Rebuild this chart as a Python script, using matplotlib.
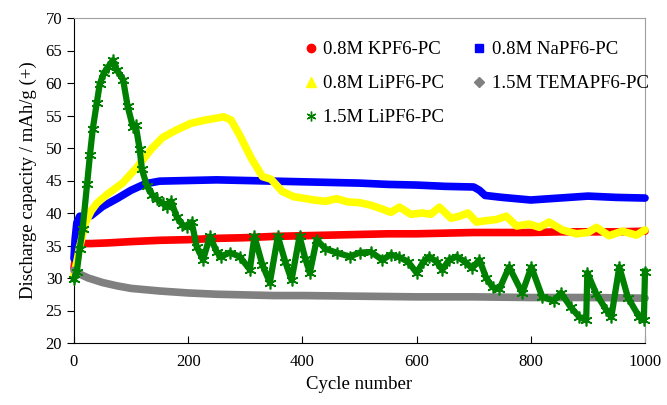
import matplotlib
matplotlib.use("Agg")
import matplotlib.pyplot as plt
from matplotlib.lines import Line2D

plt.rcParams["font.family"] = ["Liberation Serif", "DejaVu Serif"]

# 0.8M KPF6-PC
cyc_k = [0, 3, 8, 15, 30, 60, 100, 150, 200, 250, 300, 350, 400, 450, 500,
         550, 600, 650, 700, 750, 800, 850, 900, 950, 1000]
cap_k = [31.5, 33.5, 35.0, 35.3, 35.3, 35.4, 35.6, 35.8, 35.9, 36.1, 36.2, 36.4,
         36.5, 36.6, 36.7, 36.8, 36.8, 36.9, 37.0, 37.0, 37.0, 37.1, 37.1, 37.1, 37.2]

# 0.8M NaPF6-PC
cyc_n = [0, 2, 5, 10, 20, 30, 50, 75, 100, 125, 150, 200, 250, 300, 350, 400,
         450, 500, 550, 600, 650, 700, 710, 720, 750, 800, 850, 900, 950, 1000]
cap_n = [33.0, 36.0, 38.5, 39.5, 39.5, 39.6, 41.0, 42.2, 43.5, 44.5, 44.9, 45.0,
         45.1, 45.0, 44.9, 44.8, 44.7, 44.6, 44.4, 44.3, 44.1, 44.0, 43.5, 42.7,
         42.4, 42.0, 42.3, 42.6, 42.4, 42.3]

# 0.8M LiPF6-PC
cyc_l8 = [0, 5, 10, 20, 30, 40, 60, 85, 110, 135, 155, 180, 205, 230, 250, 262,
          275, 290, 310, 330, 345, 365, 385, 400, 420, 440, 460, 480, 500, 520,
          540, 555, 570, 590, 610, 625, 640, 660, 675, 690, 705, 720, 740, 757,
          775, 797, 815, 832, 855, 880, 900, 915, 937, 960, 985, 1000]
cap_l8 = [30.5, 32.5, 34.8, 38.5, 40.3, 41.5, 43.0, 44.6, 47.0, 49.8, 51.6, 52.8,
          53.8, 54.3, 54.6, 54.8, 54.3, 52.0, 48.5, 45.6, 45.2, 43.3, 42.5, 42.3,
          42.0, 41.8, 42.2, 41.7, 41.6, 41.2, 40.6, 40.1, 40.9, 39.8, 40.0, 39.8,
          40.9, 39.2, 39.5, 40.0, 38.6, 38.8, 39.0, 39.5, 38.0, 38.3, 37.8, 38.6,
          37.4, 36.8, 37.0, 37.8, 36.5, 37.2, 36.6, 37.4]

# 1.5M TEMAPF6-PC
cyc_t = [0, 10, 25, 50, 75, 100, 150, 200, 250, 300, 350, 400, 500, 600, 700,
         800, 900, 1000]
cap_t = [31.2, 30.6, 30.0, 29.3, 28.8, 28.4, 28.0, 27.7, 27.5, 27.4, 27.3, 27.3,
         27.2, 27.1, 27.1, 27.0, 27.0, 26.9]

# 1.5M LiPF6-PC
cyc_l15 = [0, 5, 10, 15, 23, 28, 33, 40, 45, 52, 60, 68, 75, 86, 94, 103, 108,
           115, 119, 128, 137, 145, 155, 163, 170, 180, 190, 198, 206, 215, 226,
           238, 250, 257, 273, 290, 308, 316, 330, 343, 357, 370, 381, 395, 405,
           413, 425, 440, 460, 483, 500, 520, 540, 555, 570, 585, 600, 612, 622,
           635, 645, 657, 670, 685, 697, 710, 722, 733, 745, 762, 785, 801, 820,
           840, 853, 870, 885, 897, 899, 915, 932, 941, 955, 970, 990, 998, 1000]
cap_l15 = [29.8, 31.0, 34.5, 37.5, 44.5, 49.0, 53.0, 57.0, 59.8, 61.5, 62.5, 63.5,
           62.0, 60.5, 56.4, 53.3, 53.5, 49.8, 46.7, 44.1, 42.8, 42.1, 41.5, 41.0,
           41.8, 39.4, 38.2, 37.9, 38.6, 34.8, 32.8, 36.4, 34.0, 33.3, 33.9, 33.3,
           31.3, 36.4, 32.0, 29.3, 36.4, 32.5, 29.7, 36.4, 33.0, 30.8, 35.9, 34.5,
           33.9, 33.3, 33.9, 34.0, 32.8, 33.6, 33.2, 32.5, 30.8, 32.5, 33.3, 32.5,
           31.3, 32.8, 33.3, 32.5, 31.5, 32.8, 30.0, 28.6, 28.3, 31.7, 27.7, 31.7,
           27.1, 26.5, 27.7, 25.5, 24.0, 23.5, 30.8, 27.5, 25.1, 24.0, 31.7, 27.0,
           24.0, 23.5, 31.0]

labels = ["0.8M KPF6-PC", "0.8M NaPF6-PC", "0.8M LiPF6-PC", "1.5M TEMAPF6-PC",
          "1.5M LiPF6-PC"]
colors = ["#ff0000", "#0000ff", "#ffff00", "#808080", "#008000"]
markers = ["o", "s", "^", "D", (6, 2, 0)]
legend_ms = [6, 6, 7, 5, 7]

fig = plt.figure(figsize=(6.67, 4.05), dpi=100)
ax = fig.add_axes([74 / 667, 1 - 343 / 405, 571 / 667, 325 / 405])

series = [(cyc_k, cap_k), (cyc_n, cap_n), (cyc_l8, cap_l8), (cyc_t, cap_t),
          (cyc_l15, cap_l15)]
for i, (xs, ys) in enumerate(series):
  if i == 4:
    # green: thick line plus star markers
    ax.plot(xs, ys, color=colors[i], lw=4.5, marker=markers[i], ms=8.5,
            mew=1.2, zorder=3 + i, clip_on=False)
  else:
    ax.plot(xs, ys, color=colors[i], lw=5.5, solid_capstyle="round",
            solid_joinstyle="round", zorder=3 + i, clip_on=False)

ax.set_xlim(0, 1000)
ax.set_ylim(20, 70)
ax.set_xticks(range(0, 1001, 200))
ax.set_yticks(range(20, 71, 5))
ax.tick_params(axis="x", direction="in", length=5, labelsize=12, pad=8)
ax.tick_params(axis="y", direction="out", length=5, labelsize=12)
ax.spines["top"].set_color("#a0a0a0")
ax.spines["right"].set_color("#a0a0a0")
ax.set_xlabel("Cycle number", fontsize=13.5, labelpad=4)
ax.set_ylabel("Discharge capacity / mAh/g (+)", fontsize=13.5, labelpad=6)

handles = []
for i in range(5):
  handles.append(Line2D([], [], ls="none", marker=markers[i], color=colors[i],
                        ms=legend_ms[i], mew=1.0))
order = [0, 2, 4, 1, 3]
fig.legend([handles[j] for j in order], [labels[j] for j in order],
           loc="upper left", bbox_to_anchor=(305 / 667, 1 - 41 / 405),
           ncol=2, frameon=False, fontsize=13.5, borderpad=0, borderaxespad=0,
           handlelength=0.6, handletextpad=0.35, columnspacing=1.6,
           labelspacing=0.9)

fig.savefig("out.png", dpi=100)
